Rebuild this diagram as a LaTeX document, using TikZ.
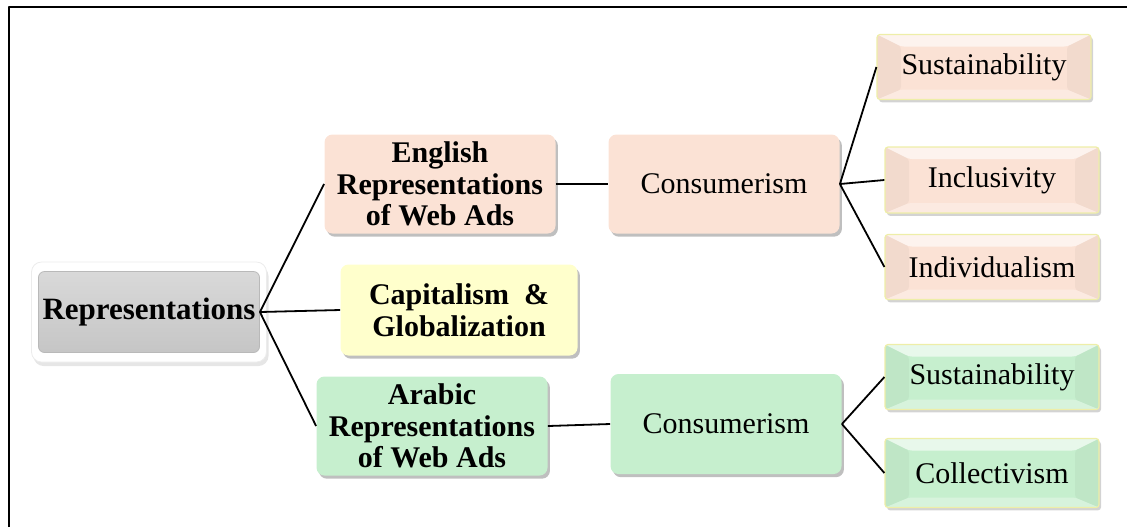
\documentclass[tikz,border=0pt]{standalone}
\usepackage{fontspec}
\setmainfont{Liberation Serif}
\usetikzlibrary{shadows}

\definecolor{peach}{HTML}{FBE2D5}
\definecolor{cream}{HTML}{FFFFCC}
\definecolor{mint}{HTML}{C6EFCE}
\definecolor{rim}{HTML}{EEEEA8}

\tikzset{
  mainbox/.style={rounded corners=4pt,minimum width=115.5pt,minimum height=49.5pt,
    drop shadow={shadow xshift=1.2pt,shadow yshift=-1.6pt,opacity=0.5}},
  leafbox/.style={rounded corners=1.5pt,draw=rim,line width=0.6pt,
    minimum width=107pt,minimum height=32.5pt,
    drop shadow={shadow xshift=1pt,shadow yshift=-1.4pt,opacity=0.35},
    path picture={
      \fill[white,opacity=0.6] (path picture bounding box.north west) -- (path picture bounding box.north east)
        -- ([xshift=-12pt,yshift=-6pt]path picture bounding box.north east) -- ([xshift=12pt,yshift=-6pt]path picture bounding box.north west) -- cycle;
      \fill[black,opacity=0.035] (path picture bounding box.north west) -- ([xshift=12pt,yshift=-6pt]path picture bounding box.north west)
        -- ([xshift=12pt,yshift=5pt]path picture bounding box.south west) -- (path picture bounding box.south west) -- cycle;
      \fill[black,opacity=0.035] (path picture bounding box.north east) -- ([xshift=-12pt,yshift=-6pt]path picture bounding box.north east)
        -- ([xshift=-12pt,yshift=5pt]path picture bounding box.south east) -- (path picture bounding box.south east) -- cycle;
      \fill[white,opacity=0.3] (path picture bounding box.south west) -- (path picture bounding box.south east)
        -- ([xshift=-12pt,yshift=5pt]path picture bounding box.south east) -- ([xshift=12pt,yshift=5pt]path picture bounding box.south west) -- cycle;
    }},
  link/.style={black,line width=0.9pt},
}

\begin{document}
\begin{tikzpicture}[x=0.5pt,y=-0.5pt,line join=bevel,
  every node/.style={font=\fontsize{15}{15.75}\selectfont,align=center,inner sep=0pt}]

 \useasboundingbox (0,0) rectangle (1127,527);
 \draw [line width=1pt] (9,527) -- (9,7) -- (1127,7);

 \node (node_0g) at (149,312) [fill=white,draw=gray!15,rounded corners=5pt,minimum width=117.5pt,minimum height=50pt,
   drop shadow={shadow xshift=1pt,shadow yshift=-2pt,opacity=0.2}] {};
 \node (node_0) at (149,312) [top color=gray!30,bottom color=gray!45,draw=gray!55,line width=0.4pt,rounded corners=3pt,
   minimum width=110.5pt,minimum height=40.5pt,font=\fontsize{15.5}{16}\selectfont\bfseries] {Representations};

 \node (node_1) at (440,184) [mainbox,fill=peach,font=\fontsize{15}{15.75}\selectfont\bfseries] {English\\Representations\\of Web Ads};
 \node (node_2) at (459,310) [mainbox,fill=cream,minimum width=118.5pt,minimum height=45.5pt,font=\fontsize{15}{15.75}\selectfont\bfseries] {Capitalism\ \ \&\\Globalization};
 \node (node_3) at (432,426) [mainbox,fill=mint,font=\fontsize{15}{15.75}\selectfont\bfseries] {Arabic\\Representations\\of Web Ads};

 \node (node_4) at (724,184) [mainbox,fill=peach] {Consumerism};
 \node (node_5) at (726,424) [mainbox,fill=mint,minimum height=50pt] {Consumerism};

 \node (node_6) at (984,67) [leafbox,fill=peach] {Sustainability};
 \node (node_7) at (992,180) [leafbox,fill=peach,minimum height=33pt] {Inclusivity};
 \node (node_8) at (992,267) [leafbox,fill=peach] {Individualism};
 \node (node_9) at (992,377) [leafbox,fill=mint] {Sustainability};
 \node (node_10) at (992,473) [leafbox,fill=mint,minimum height=34.5pt] {Collectivism};

  \draw [link] (node_0.east) edge (node_1.west);
  \draw [link] (node_0.east) edge (node_2.west);
  \draw [link] (node_0.east) edge (node_3.west);
  \draw [link] (node_1.east) edge (node_4.west);
  \draw [link] (node_3.east) edge (node_5.west);
  \draw [link] (node_4.east) edge (node_6.west);
  \draw [link] (node_4.east) edge (node_7.west);
  \draw [link] (node_4.east) edge (node_8.west);
  \draw [link] (node_5.east) edge (node_9.west);
  \draw [link] (node_5.east) edge (node_10.west);

\end{tikzpicture}
\end{document}
